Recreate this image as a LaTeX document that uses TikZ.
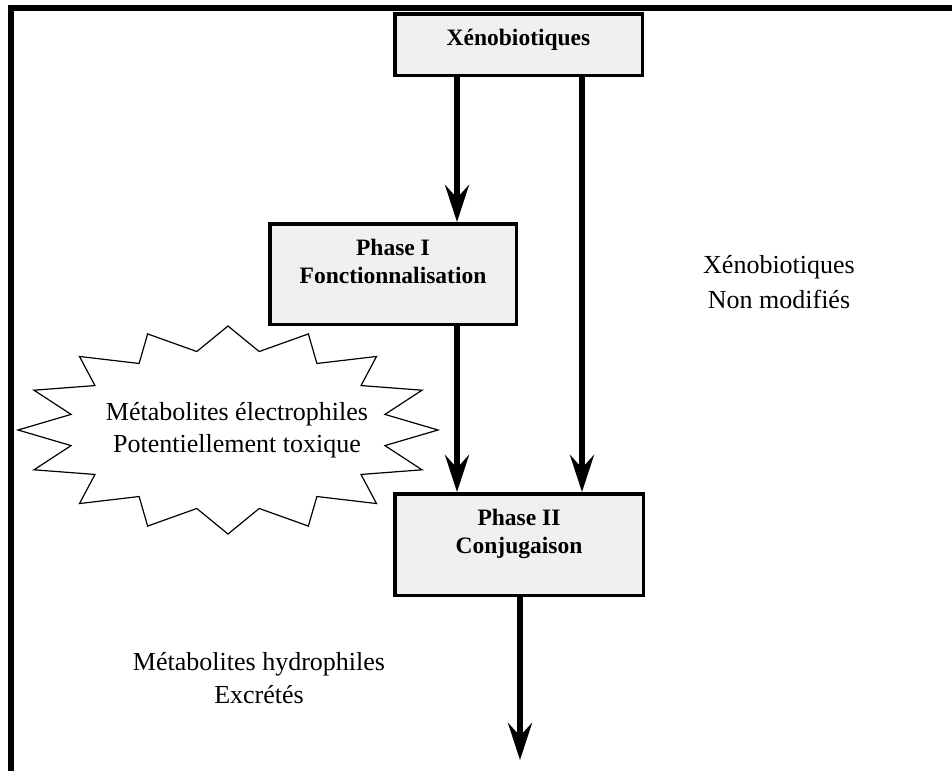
\documentclass[tikz,border=0pt]{standalone}
\usepackage{fontspec}
\setmainfont{Liberation Serif}
\usetikzlibrary{arrows.meta}
\definecolor{boxgray}{HTML}{F0F0F0}
\begin{document}
\begin{tikzpicture}[x=1pt,y=-1pt,
  box/.style={rectangle, draw=black, line width=3.5pt, fill=boxgray, inner sep=0pt},
  boxtxt/.style={font=\bfseries\fontsize{23.5}{28}\selectfont, align=center, anchor=base, inner sep=0pt},
  lbl/.style={font=\fontsize{26}{33}\selectfont, align=center, anchor=base, inner sep=0pt},
  arr/.style={line width=5.5pt, -{Stealth[length=37pt,width=24pt,inset=13pt]}},
  frameline/.style={line width=6pt, line join=miter},
  burst/.style={line width=1.2pt, draw=black, fill=white, line join=miter}]
\useasboundingbox (0,0) rectangle (952,771);
\fill[white] (0,0) rectangle (952,771);
\draw[frameline] (11,771) -- (11,8) -- (952,8);

% boxes (base anchor of multi-line text = baseline of last line)
\node[box, minimum width=247.5pt, minimum height=61.5pt] (xeno) at (518.5,44.5) {};
\node[boxtxt] (xenoT) at (518.5,45) {Xénobiotiques};
\node[box, minimum width=246.5pt, minimum height=100.5pt] (p1) at (393,274) {};
\node[boxtxt] (p1T) at (393,283) {Phase I\\Fonctionnalisation};
\node[box, minimum width=248.5pt, minimum height=101.5pt] (p2) at (519,544.5) {};
\node[boxtxt] (p2T) at (519,553) {Phase II\\Conjugaison};

% connectors
\coordinate (cL) at (457,0);
\coordinate (cR) at (582,0);
\coordinate (outEnd) at (520,760);
\draw[arr] (xeno.south -| cL) -- (p1.north -| cL);
\draw[arr] (xeno.south -| cR) -- (p2.north -| cR);
\draw[arr] (p1.south -| cL) -- (p2.north -| cL);
\draw[arr] (p2.south -| outEnd) -- (outEnd);

% starburst
\draw[burst] plot[samples at={0,...,31}, variable=\k]
  ({228+cos(90+11.25*\k)*(210-50*mod(\k,2))}, {430-sin(90+11.25*\k)*(104-24*mod(\k,2))}) -- cycle;
\node[lbl] (burstT) at (237,452) {Métabolites électrophiles\\[-1pt]Potentiellement toxique};

% labels
\node[lbl] (unmod) at (779,308) {Xénobiotiques\\[2pt]Non modifiés};
\node[lbl] (excr) at (259,703) {Métabolites hydrophiles\\Excrétés};
\end{tikzpicture}
\end{document}
